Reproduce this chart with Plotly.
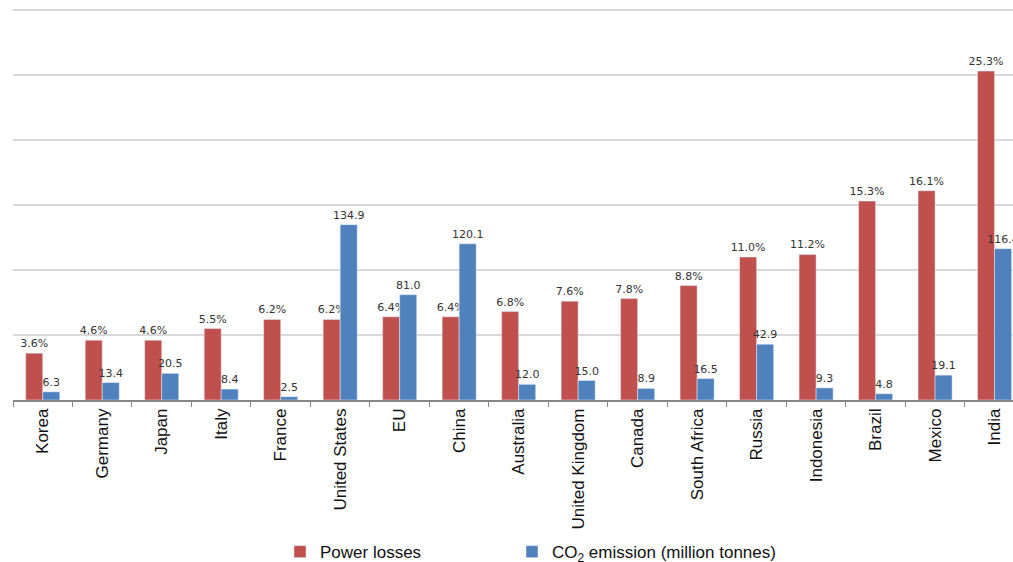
import plotly.graph_objects as go

categories = ["Korea", "Germany", "Japan", "Italy", "France", "United States", "EU", "China",
              "Australia", "United Kingdom", "Canada", "South Africa", "Russia", "Indonesia",
              "Brazil", "Mexico", "India"]
power_losses = [3.6, 4.6, 4.6, 5.5, 6.2, 6.2, 6.4, 6.4, 6.8, 7.6, 7.8, 8.8, 11.0, 11.2, 15.3, 16.1, 25.3]
co2_emission = [6.3, 13.4, 20.5, 8.4, 2.5, 134.9, 81.0, 120.1, 12.0, 15.0, 8.9, 16.5, 42.9, 9.3, 4.8, 19.1, 116.4]

RED = "#C0504D"
BLUE = "#4F81BD"
BW = 0.286

fig = go.Figure()
fig.add_trace(go.Bar(
    x=categories, y=power_losses, name="Power losses",
    marker=dict(color=RED), width=BW, offset=-BW,
    texttemplate="%{y:.1f}%", textposition="outside", constraintext="none", cliponaxis=False,
    textfont=dict(family="DejaVu Sans", size=11, color="#333333"),
    yaxis="y", legend="legend",
))
fig.add_trace(go.Bar(
    x=categories, y=co2_emission, name="CO<sub>2</sub> emission (million tonnes)",
    marker=dict(color=BLUE), width=BW, offset=0,
    texttemplate="%{y:.1f}", textposition="outside", constraintext="none", cliponaxis=False,
    textfont=dict(family="DejaVu Sans", size=11, color="#333333"),
    yaxis="y2", legend="legend2",
))

legend_common = dict(
    orientation="h", yanchor="middle", y=-0.387, xanchor="left",
    font=dict(family="Liberation Sans, Arial", size=17, color="#111111"),
    itemwidth=30, bgcolor="rgba(0,0,0,0)",
)

fig.update_layout(
    width=1013, height=562,
    margin=dict(l=13, r=0, t=7, b=162, autoexpand=False),
    paper_bgcolor="white", plot_bgcolor="white",
    barmode="overlay",
    font=dict(family="Liberation Sans, Arial", size=17, color="#111111"),
    xaxis=dict(
        type="category", range=[-0.5, 16.31],
        tickangle=-90, tickson="boundaries", ticks="outside", ticklen=5,
        tickcolor="#888888", showline=True, linecolor="#888888", linewidth=1.5,
        tickfont=dict(family="Liberation Sans, Arial", size=17, color="#111111"),
        showgrid=False, automargin=False,
    ),
    yaxis=dict(
        range=[0, 30.23], dtick=5, showticklabels=False, showgrid=True,
        gridcolor="#D9D9D9", gridwidth=1.5, zeroline=False, showline=False, ticks="",
        automargin=False,
    ),
    yaxis2=dict(
        range=[0, 302.3], overlaying="y", side="right", showticklabels=False,
        showgrid=False, zeroline=False, showline=False, ticks="", automargin=False,
    ),
    legend=dict(x=0.267, **legend_common),
    legend2=dict(x=0.499, **legend_common),
    showlegend=True,
)

fig.write_html("out.html")
